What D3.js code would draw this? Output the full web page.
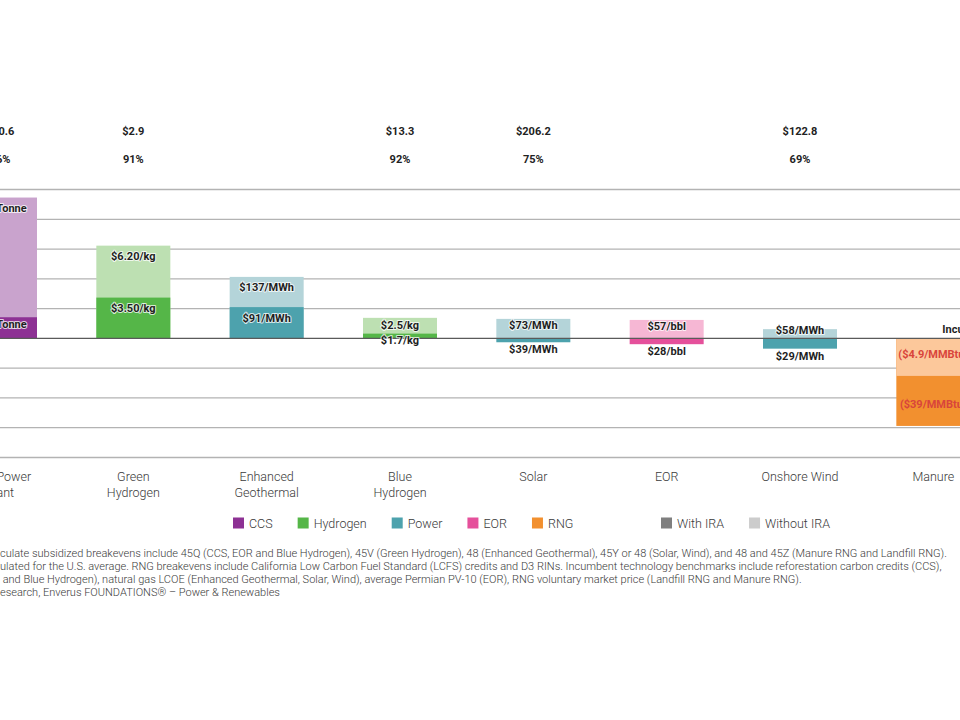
<!DOCTYPE html>
<html>
<head>
<meta charset="utf-8">
<script src="https://cdn.jsdelivr.net/npm/d3@7"></script>
<style>
  html, body { margin: 0; padding: 0; background: #fff; }
  svg { display: block; font-family: Roboto, "Noto Sans", sans-serif; }
</style>
</head>
<body>
<svg id="chart" width="960" height="720"></svg>
<script>
// ---------------- data ----------------
const categories = ["Coal Power|Plant", "Green|Hydrogen", "Enhanced|Geothermal", "Blue|Hydrogen", "Solar", "EOR", "Onshore Wind", "Manure"];
const groups = ["CCS", "Hydrogen", "Power", "Hydrogen", "Power", "EOR", "Power", "RNG"];
// relative breakeven vs incumbent (%), bar heights
const withoutIRA = [94.6, 62.3, 41.3, 13.8, 13.1, 12.4, 6.2, -25.2];
const withIRA    = [14.2, 27.4, 21.0, 3.2, -2.6, -3.9, -6.9, -58.8];
const withoutLabels = ["$97/Tonne", "$6.20/kg", "$137/MWh", "$2.5/kg", "$73/MWh", "$57/bbl", "$58/MWh", "($4.9/MMBtu)"];
const withLabels    = ["$27/Tonne", "$3.50/kg", "$91/MWh", "$1.7/kg", "$39/MWh", "$28/bbl", "$29/MWh", "($39/MMBtu)"];
const costLabels = ["$10.6", "$2.9", null, "$13.3", "$206.2", null, "$122.8", null];
const pctLabels  = ["86%", "91%", null, "92%", "75%", null, "69%", null];
const gridTicks = [-80, -60, -40, -20, 0, 20, 40, 60, 80, 100];
const legendGroups = ["CCS", "Hydrogen", "Power", "EOR", "RNG"];
const legendIRA = ["With IRA", "Without IRA"];
// footnote lines: leading part (beyond the left edge of the crop) and the rest
const footnoteLead = [
  "Note: IRA credits used to cal",
  "All breakevens are calc",
  "grey hydrogen (Green",
  "Source: Enverus Intelligence\u00AE R"
];
const footnoteRest = [
  "culate subsidized breakevens include 45Q (CCS, EOR and Blue Hydrogen), 45V (Green Hydrogen), 48 (Enhanced Geothermal), 45Y or 48 (Solar, Wind), and 48 and 45Z (Manure RNG and Landfill RNG).",
  "ulated for the U.S. average. RNG breakevens include California Low Carbon Fuel Standard (LCFS) credits and D3 RINs. Incumbent technology benchmarks include reforestation carbon credits (CCS),",
  " and Blue Hydrogen), natural gas LCOE (Enhanced Geothermal, Solar, Wind), average Permian PV-10 (EOR), RNG voluntary market price (Landfill RNG and Manure RNG).",
  "esearch, Enverus FOUNDATIONS\u00AE \u2013 Power & Renewables"
];
const incumbentNote = "Incumbent Cheaper";

// ---------------- styles ----------------
const darkColor  = {CCS: "#8d3194", Hydrogen: "#55b648", Power: "#4da2ad", EOR: "#e5509b", RNG: "#f2902f"};
const lightColor = {CCS: "#c9a3cd", Hydrogen: "#bde0b2", Power: "#b4d4d9", EOR: "#f6b7d4", RNG: "#fcc89b"};
const iraColor = {"With IRA": "#7f7f7f", "Without IRA": "#cccccc"};

const svg = d3.select("#chart");
svg.append("rect").attr("width", 960).attr("height", 720).attr("fill", "#fff");

const x = d3.scaleBand().domain(categories).range([-66.67, 1000]).paddingInner(0.445).paddingOuter(0.2225);
const y = d3.scaleLinear().domain([-80, 100]).range([457.5, 189.5]);
const cx = c => x(c) + x.bandwidth() / 2;

// gridlines
svg.append("g").selectAll("line").data(gridTicks.filter(t => t !== 0)).join("line")
  .attr("x1", -10).attr("x2", 970)
  .attr("y1", d => y(d)).attr("y2", d => y(d))
  .attr("stroke", "#b3b3b3").attr("stroke-width", 1.3);

// bars: draw larger magnitude first, smaller on top
const rows = categories.map((c, i) => ({c, i, g: groups[i]}));
const barsG = svg.append("g");
rows.forEach(r => {
  const items = [
    {v: withoutIRA[r.i], col: lightColor[r.g]},
    {v: withIRA[r.i], col: darkColor[r.g]}
  ].sort((a, b) => Math.abs(b.v) - Math.abs(a.v));
  items.forEach(it => {
    barsG.append("rect")
      .attr("x", x(r.c)).attr("width", x.bandwidth())
      .attr("y", Math.min(y(it.v), y(0)))
      .attr("height", Math.abs(y(it.v) - y(0)))
      .attr("fill", it.col);
  });
});

// baseline
svg.append("line").attr("x1", -10).attr("x2", 970).attr("y1", y(0)).attr("y2", y(0))
  .attr("stroke", "#5a5a5a").attr("stroke-width", 1.3);

// bar labels
function labelY(v, other, isWith) {
  const y0 = y(0), ye = y(v), h = Math.abs(ye - y0);
  if (v < 0 && other < 0) return ye - 21;
  if (v < 0) return ye + 7.5;
  if (isWith && h < 12) return y0 + 2;
  return ye + Math.min(11, h / 2 - 3);
}
const lab = svg.append("g").attr("font-size", 11).attr("font-weight", 700)
  .attr("text-anchor", "middle").attr("dominant-baseline", "central")
  .attr("stroke", "#fff").attr("stroke-width", 2)
  .attr("paint-order", "stroke").attr("stroke-linejoin", "round");
rows.forEach(r => {
  const wv = withoutIRA[r.i], iv = withIRA[r.i];
  const red = wv < 0 && iv < 0;
  lab.append("text").attr("x", cx(r.c)).attr("y", labelY(wv, iv, false))
    .attr("fill", red ? "#d9453b" : "#1f1f1f").attr("stroke-opacity", red ? 0 : 0.75)
    .text(withoutLabels[r.i]);
  lab.append("text").attr("x", cx(r.c)).attr("y", labelY(iv, wv, true))
    .attr("fill", red ? "#d9453b" : "#1f1f1f").attr("stroke-opacity", red ? 0 : 0.75)
    .text(withLabels[r.i]);
});

// incumbent note near Manure
svg.append("text").attr("x", cx("Manure") + 9).attr("y", y(6))
  .attr("font-size", 11).attr("font-weight", 700).attr("fill", "#1f1f1f")
  .attr("dominant-baseline", "central").text(incumbentNote);

// top annotations
const topG = svg.append("g").attr("font-size", 11).attr("font-weight", 700).attr("fill", "#222")
  .attr("text-anchor", "middle").attr("dominant-baseline", "central");
rows.forEach(r => {
  if (costLabels[r.i]) topG.append("text").attr("x", cx(r.c)).attr("y", 131).text(costLabels[r.i]);
  if (pctLabels[r.i]) topG.append("text").attr("x", cx(r.c)).attr("y", 159).text(pctLabels[r.i]);
});

// category labels
const cat = svg.append("g").attr("font-size", 12.5).attr("font-weight", 300).attr("fill", "#3a3a3a")
  .attr("text-anchor", "middle");
rows.forEach(r => {
  const t = cat.append("text").attr("x", cx(r.c)).attr("y", 481);
  r.c.split("|").forEach((ln, k) => {
    t.append("tspan").attr("x", cx(r.c)).attr("dy", k === 0 ? 0 : 15.5).text(ln);
  });
});

// legend
const leg = svg.append("g").attr("font-size", 12.5).attr("font-weight", 300).attr("fill", "#3a3a3a");
function legendRow(items, colorOf, startX) {
  let lx = startX;
  items.forEach(name => {
    leg.append("rect").attr("x", lx).attr("y", 517.5).attr("width", 11).attr("height", 11).attr("fill", colorOf(name));
    const t = leg.append("text").attr("x", lx + 16).attr("y", 523).attr("dominant-baseline", "central").text(name);
    lx = lx + 16 + t.node().getComputedTextLength() + 25;
  });
}
legendRow(legendGroups, n => darkColor[n], 233);
legendRow(legendIRA, n => iraColor[n], 661);

// footnotes (paragraph starts beyond the left edge)
const fn = svg.append("g").attr("font-size", 11.0).attr("font-weight", 300).attr("fill", "#3a3a3a");
footnoteLead.forEach((lead, k) => {
  const probe = fn.append("text").text(lead);
  const w = probe.node().getComputedTextLength();
  probe.remove();
  fn.append("text").attr("x", -w).attr("y", 556.5 + k * 13.2)
    .attr("xml:space", "preserve").style("white-space", "pre")
    .text(lead + footnoteRest[k]);
});
</script>
</body>
</html>
